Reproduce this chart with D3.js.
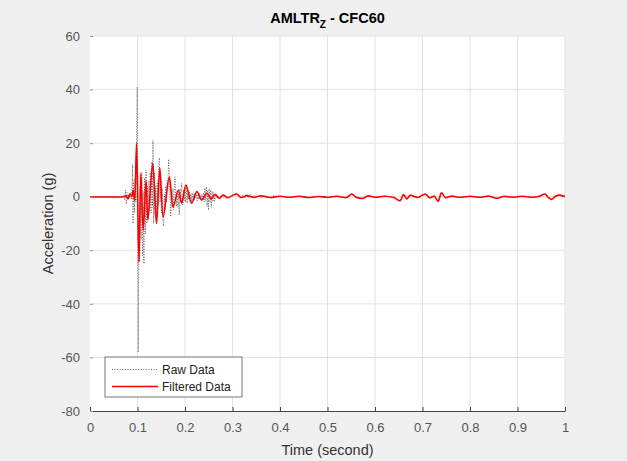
<!DOCTYPE html>
<html>
<head>
<meta charset="utf-8">
<script src="https://cdn.jsdelivr.net/npm/d3@7"></script>
<style>
  html, body { margin: 0; padding: 0; background: #f0f0f0; }
  svg { display: block; font-family: "Liberation Sans", Arial, Helvetica, sans-serif; }
</style>
</head>
<body>
<svg id="chart" width="627" height="461"></svg>
<script>
// ---- Data ----
const titleMain = "AMLTR";
const titleSub = "Z";
const titleRest = " - CFC60";
const xLabel = "Time (second)";
const yLabel = "Acceleration (g)";
const legendLabels = ["Raw Data", "Filtered Data"];

const xTicks = [0, 0.1, 0.2, 0.3, 0.4, 0.5, 0.6, 0.7, 0.8, 0.9, 1];
const xTickLabels = ["0", "0.1", "0.2", "0.3", "0.4", "0.5", "0.6", "0.7", "0.8", "0.9", "1"];
const yTicks = [60, 40, 20, 0, -20, -40, -60, -80];
const yTickLabels = ["60", "40", "20", "0", "-20", "-40", "-60", "-80"];

const rawTime = [0, 0.05, 0.068, 0.071, 0.073, 0.075, 0.0765, 0.078, 0.0795, 0.081, 0.083, 0.085, 0.087,
  0.0885, 0.0895, 0.0905, 0.092, 0.0935, 0.095, 0.0965, 0.0995, 0.1015, 0.103, 0.1045, 0.106, 0.1075,
  0.109, 0.1105, 0.112, 0.1135, 0.115, 0.1165, 0.118, 0.1195, 0.121, 0.1225, 0.124, 0.1255, 0.127,
  0.1285, 0.130, 0.1315, 0.1325, 0.134, 0.1355, 0.137, 0.1385, 0.140, 0.1415, 0.143, 0.1445, 0.146,
  0.1475, 0.149, 0.1505, 0.152, 0.1535, 0.155, 0.1565, 0.158, 0.1595, 0.161, 0.1625, 0.164, 0.1655,
  0.167, 0.1685, 0.170, 0.1715, 0.173, 0.1745, 0.176, 0.1775, 0.179, 0.1805, 0.182, 0.1835, 0.185,
  0.1865, 0.188, 0.1895, 0.191, 0.1925, 0.194, 0.1955, 0.197, 0.1985, 0.200, 0.2015, 0.203, 0.2045,
  0.206, 0.2075, 0.209, 0.2105, 0.212, 0.2135, 0.215, 0.2165, 0.218, 0.2195, 0.221, 0.2225, 0.224,
  0.2255, 0.227, 0.2285, 0.230, 0.2315, 0.233, 0.2345, 0.236, 0.2375, 0.239, 0.2405, 0.242, 0.2435,
  0.245, 0.2465, 0.248, 0.2495, 0.251, 0.2525, 0.254, 0.2555, 0.257, 0.2585, 0.260, 0.2615, 0.263,
  0.2645, 0.266, 0.268, 0.270, 0.273, 0.276, 0.280, 0.285, 0.290, 0.300, 0.310, 0.318, 0.322, 0.326,
  0.330, 0.334, 0.338, 0.342, 0.346, 0.350, 0.355, 0.360, 0.370, 0.380, 0.385, 0.400,
  0.420, 0.440, 0.460, 0.480, 0.500, 0.520, 0.540, 0.551, 0.560, 0.575, 0.585, 0.600, 0.620, 0.640,
  0.653, 0.660, 0.667, 0.674, 0.690, 0.706, 0.715, 0.725, 0.733, 0.740, 0.748, 0.760, 0.780, 0.800,
  0.820, 0.840, 0.856, 0.870, 0.890, 0.910, 0.930, 0.945, 0.958, 0.965, 0.972, 0.980, 0.989, 1.0];
const rawAccel = [0, 0, 0, 0.8, -1.2, 2.5, -2.8, 1.5, -0.8, 0.6, -0.6, 1.2, -1.0,
  4, 12, -10, 6, -6, 7, -2, 41, -58, -14, -24, 4, -16,
  9, -22, 2, -25, 7, -14, 10, -10, 4, -8, 6, -5, 9,
  -6, 13, -4, 21, -10, 9, -7, 4, -9, 6, -3, 11, 14.5,
  -2, 7, -6, 3, -9, -11, 1, -5, 4, -2, 6, 3, 14,
  9, 0, -7.5, 2, -4, 3, -5, 4, 7.5, 0, -3.5, 2, -4,
  1, -6.8, 3, -2, 5, 1, -3, 2.5, -1.5, 3.5, -2, 4.5, -2.5,
  1.5, -1, 2, -1.5, 1, -2, 1.5, -1, 0.8, -1.2, 1.5, -0.5, 1,
  -1.5, 0.5, -1, 1.2, -0.8, 0.5, -1, 0.8, -0.6, 1.5, -2, 3.2, -1.5,
  3.7, -3.7, 2.5, -5, 3, -2, 2.5, -4, 2, -1.5, 1.5, -2, 0.8,
  -0.6, 0.5, -0.5, 0.4, -0.3, 0.3, -0.3, 0.3, -0.2, 0.3, 0.8, -0.4, 0.6, -0.6,
  0.8, -0.5, 0.7, -0.6, 0.5, -0.5, 0.4, -0.3, 0.4, -0.4, 0.3, 0.2,
  -0.2, 0.2, -0.3, 0.1, -0.2, 0.2, -0.3, 1.0, -0.2, -0.6, 0.3, -0.2, 0.2, -0.3,
  -1.5, 0.8, -0.8, 0.5, -0.3, 1.0, -0.4, 0.2, -1.7, 1.5, -0.3, 0.2, -0.2, 0.2,
  -0.2, 0.2, -0.6, 0.1, -0.2, 0.2, -0.2, 0.1, 1.0, -0.3, -1.0, 0.2, 0.6, 0];

const filtTime = [0, 0.070, 0.076, 0.080, 0.084, 0.088, 0.091, 0.094, 0.098, 0.103, 0.107, 0.112,
  0.118, 0.122, 0.132, 0.140, 0.147, 0.154, 0.167, 0.175, 0.186, 0.193, 0.202, 0.214, 0.225, 0.235,
  0.246, 0.255, 0.263, 0.272, 0.280, 0.290, 0.300, 0.309, 0.318, 0.330, 0.345, 0.360, 0.380, 0.400,
  0.420, 0.440, 0.460, 0.480, 0.500, 0.520, 0.540, 0.551, 0.560, 0.575, 0.585, 0.600, 0.620, 0.640,
  0.653, 0.660, 0.667, 0.674, 0.690, 0.706, 0.715, 0.725, 0.733, 0.740, 0.748, 0.760, 0.780, 0.800,
  0.820, 0.840, 0.856, 0.870, 0.890, 0.910, 0.930, 0.945, 0.958, 0.965, 0.972, 0.980, 0.989, 1.0];
const filtAccel = [0, 0, 0.3, -0.8, 1.0, 0.2, 2.5, -1.5, 20, -24.5, 8.8, -12.5,
  6, -8.7, 12.5, -10, 10.7, -7.5, 7.3, -3.8, 2.5, -2.4, 4.4, -2.4, 1.9, -1.2,
  1.3, -0.8, 0.9, -0.6, 0.6, -0.4, 0.5, 1.0, -0.3, 0.4, -0.2, 0.3, -0.3, 0.2,
  -0.2, 0.2, -0.3, 0.1, -0.2, 0.2, -0.3, 1.0, -0.2, -0.6, 0.3, -0.2, 0.2, -0.3,
  -1.5, 0.8, -0.8, 0.5, -0.3, 1.0, -0.4, 0.2, -1.7, 1.5, -0.3, 0.2, -0.2, 0.2,
  -0.2, 0.2, -0.6, 0.1, -0.2, 0.2, -0.2, 0.1, 1.0, -0.3, -1.0, 0.2, 0.6, 0];

// ---- Layout ----
const W = 627, H = 461;
const plot = { left: 90, right: 565, top: 36, bottom: 411 };

const svg = d3.select("#chart");
svg.append("rect").attr("width", W).attr("height", H).attr("fill", "#f0f0f0");

const x = d3.scaleLinear().domain([0, 1]).range([plot.left, plot.right]);
const y = d3.scaleLinear().domain([-80, 60]).range([plot.bottom, plot.top]);

// plot background
svg.append("rect")
  .attr("x", plot.left).attr("y", plot.top)
  .attr("width", plot.right - plot.left).attr("height", plot.bottom - plot.top)
  .attr("fill", "#ffffff");

// grid
const grid = svg.append("g");
grid.selectAll("line.vx").data(xTicks.slice(1)).join("line")
  .attr("x1", d => x(d)).attr("x2", d => x(d))
  .attr("y1", plot.top).attr("y2", plot.bottom)
  .attr("stroke", "#e2e2e2").attr("stroke-width", 1);
grid.selectAll("line.hy").data(yTicks.slice(0, -1)).join("line")
  .attr("x1", plot.left).attr("x2", plot.right)
  .attr("y1", d => y(d)).attr("y2", d => y(d))
  .attr("stroke", "#e2e2e2").attr("stroke-width", 1);

// clip
svg.append("clipPath").attr("id", "clip").append("rect")
  .attr("x", plot.left).attr("y", plot.top)
  .attr("width", plot.right - plot.left).attr("height", plot.bottom - plot.top);

const rawData = rawTime.map((t, i) => [t, rawAccel[i]]);
const filtData = filtTime.map((t, i) => [t, filtAccel[i]]);

const lineRaw = d3.line().x(d => x(d[0])).y(d => y(d[1]));
const lineFilt = d3.line().x(d => x(d[0])).y(d => y(d[1])).curve(d3.curveCatmullRom.alpha(0.5));

const lines = svg.append("g").attr("clip-path", "url(#clip)");
lines.append("path").datum(rawData)
  .attr("d", lineRaw)
  .attr("fill", "none").attr("stroke", "#444").attr("stroke-width", 0.8)
  .attr("stroke-dasharray", "1,1.6");
lines.append("path").datum(filtData)
  .attr("d", lineFilt)
  .attr("fill", "none").attr("stroke", "#ff0000").attr("stroke-width", 1.6)
  .attr("stroke-linejoin", "round");

// x axis
const xAxis = d3.axisBottom(x).tickValues(xTicks)
  .tickFormat((d, i) => xTickLabels[i]).tickSizeInner(-4).tickSizeOuter(0).tickPadding(12);
const gx = svg.append("g").attr("transform", `translate(0,${plot.bottom})`).call(xAxis);
gx.select(".domain").attr("stroke", "#444").attr("stroke-width", 1);
gx.selectAll(".tick line").attr("stroke", "#444");
gx.selectAll(".tick text").attr("fill", "#555").attr("font-size", "13px")
  .attr("font-family", "Liberation Sans, Arial, sans-serif");

// y axis
const yAxis = d3.axisLeft(y).tickValues(yTicks)
  .tickFormat((d, i) => yTickLabels[i]).tickSizeInner(-3).tickSizeOuter(0).tickPadding(10);
const gy = svg.append("g").attr("transform", `translate(${plot.left},0)`).call(yAxis);
gy.select(".domain").remove();
gy.selectAll(".tick line").attr("stroke", "#999");
gy.selectAll(".tick text").attr("fill", "#555").attr("font-size", "13px")
  .attr("font-family", "Liberation Sans, Arial, sans-serif");

// title
const title = svg.append("text")
  .attr("x", (plot.left + plot.right) / 2).attr("y", 23)
  .attr("text-anchor", "middle")
  .attr("font-size", "14.5px").attr("font-weight", "bold").attr("fill", "#000");
title.append("tspan").text(titleMain);
title.append("tspan").attr("dy", 5).attr("font-size", "10px").text(titleSub);
title.append("tspan").attr("dy", -5).text(titleRest);

// axis labels
svg.append("text")
  .attr("x", (plot.left + plot.right) / 2).attr("y", 455)
  .attr("text-anchor", "middle").attr("font-size", "14.5px").attr("fill", "#333")
  .text(xLabel);
svg.append("text")
  .attr("transform", `translate(53,${(plot.top + plot.bottom) / 2}) rotate(-90)`)
  .attr("text-anchor", "middle").attr("font-size", "14.5px").attr("fill", "#333")
  .text(yLabel);

// legend
const lg = svg.append("g");
const lgBox = { x: 105, y: 357, w: 137, h: 40 };
lg.append("rect").attr("x", lgBox.x).attr("y", lgBox.y).attr("width", lgBox.w).attr("height", lgBox.h)
  .attr("fill", "#fff").attr("stroke", "#555").attr("stroke-width", 0.8);
const rowY = [369.5, 386.5];
lg.append("line").attr("x1", 112).attr("x2", 158).attr("y1", rowY[0]).attr("y2", rowY[0])
  .attr("stroke", "#444").attr("stroke-width", 0.8).attr("stroke-dasharray", "1,1.6");
lg.append("line").attr("x1", 112).attr("x2", 158).attr("y1", rowY[1]).attr("y2", rowY[1])
  .attr("stroke", "#ff0000").attr("stroke-width", 1.6);
lg.selectAll("text.lgt").data(legendLabels).join("text")
  .attr("x", 162).attr("y", (d, i) => rowY[i] + 4)
  .attr("font-size", "12px").attr("fill", "#222")
  .text(d => d);
</script>
</body>
</html>
